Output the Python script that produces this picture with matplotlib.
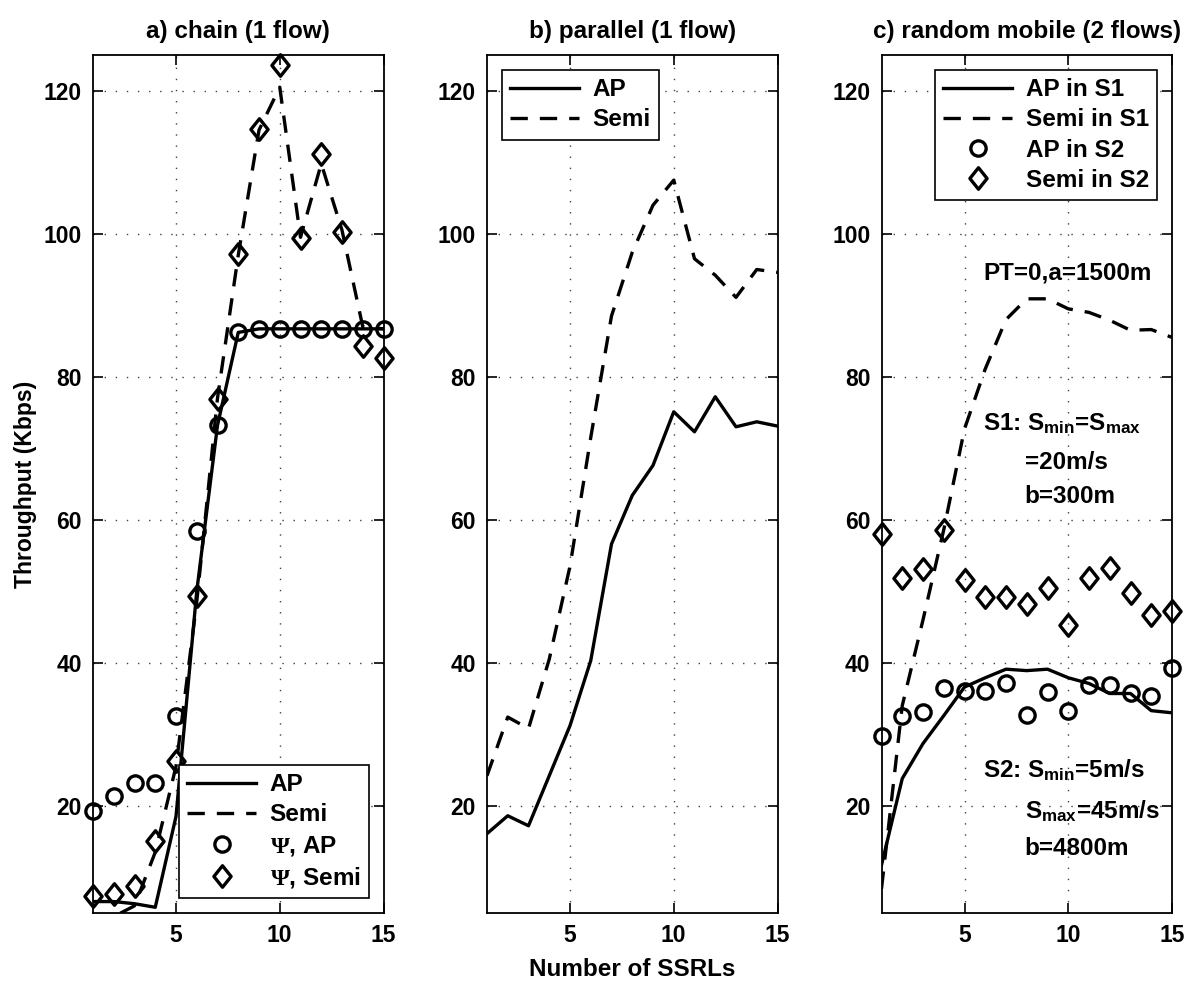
import matplotlib
matplotlib.use("Agg")
import matplotlib.pyplot as plt
from matplotlib.path import Path

fam = "Liberation Sans"
plt.rcParams['font.family'] = [fam, 'DejaVu Sans']
plt.rcParams['font.weight'] = 'bold'
plt.rcParams['mathtext.fontset'] = 'custom'
plt.rcParams['mathtext.rm'] = fam + ':bold'
plt.rcParams['mathtext.it'] = fam + ':bold'
plt.rcParams['mathtext.bf'] = fam + ':bold'
plt.rcParams['mathtext.sf'] = 'Liberation Serif'
plt.rcParams['mathtext.default'] = 'regular'

x = list(range(1, 16))

# a) chain (1 flow)
a_ap = [6.6, 6.6, 6.3, 5.8, 18.5, 50.0, 73.2, 86.2, 86.7, 86.7, 86.7, 86.7, 86.7, 86.7, 86.7]
a_semi = [3.5, 4.5, 6.0, 13.5, 25.5, 48.5, 77.0, 97.0, 114.5, 120.5, 99.5, 109.8, 100.5, 87.0, 86.7]
a_psi_ap = [19.3, 21.4, 23.2, 23.2, 32.6, 58.4, 73.2, 86.2, 86.7, 86.7, 86.7, 86.7, 86.7, 86.7, 86.7]
a_psi_semi = [7.4, 7.7, 8.8, 15.1, 26.2, 49.4, 76.9, 97.2, 114.7, 123.6, 99.4, 111.2, 100.3, 84.3, 82.6]

# b) parallel (1 flow)
b_ap = [16.1, 18.6, 17.2, 24.2, 31.2, 40.3, 56.6, 63.4, 67.6, 75.1, 72.3, 77.2, 73.0, 73.7, 73.1]
b_semi = [24.2, 32.4, 30.8, 40.5, 53.5, 71.5, 88.5, 97.4, 104.0, 107.5, 96.5, 94.2, 91.1, 95.0, 94.6]

# c) random mobile (2 flows)
c_ap_s1 = [11.7, 23.8, 28.7, 32.6, 36.6, 37.9, 39.1, 38.9, 39.1, 37.9, 37.1, 35.7, 35.7, 33.3, 33.0]
c_semi_s1 = [8.4, 34.0, 46.0, 58.6, 72.7, 81.1, 88.0, 90.9, 90.9, 89.5, 89.0, 87.9, 86.5, 86.6, 85.5]
c_ap_s2 = [29.7, 32.5, 33.1, 36.5, 36.0, 36.0, 37.2, 32.7, 35.9, 33.2, 36.9, 36.9, 35.7, 35.3, 39.2]
c_semi_s2 = [58.0, 51.8, 53.1, 58.5, 51.6, 49.2, 49.2, 48.2, 50.5, 45.3, 51.9, 53.3, 49.7, 46.7, 47.2]

titles = ["a) chain (1 flow)", "b) parallel (1 flow)", "c) random mobile (2 flows)"]
xticks = [5, 10, 15]
yticks = [20, 40, 60, 80, 100, 120]

FS = 16.5
FT = 17.5
LW = 2.4
MS = 11
MEW = 2.4
DMS = 15.5

diamond = Path([(0, 1), (0.8, 0), (0, -1), (-0.8, 0), (0, 1)],
               [Path.MOVETO, Path.LINETO, Path.LINETO, Path.LINETO, Path.CLOSEPOLY])

fig = plt.figure(figsize=(12, 9.86), dpi=100)
lefts = [93/1200, 487/1200, 881.5/1200]
W = 290.5/1200
B = 1 - 913/986
H = (913-55)/986
axes = [fig.add_axes([l, B, W, H]) for l in lefts]

dash = (0, (5.2, 3.6))

def style_legend(leg):
    leg.get_frame().set_linewidth(1.2)
    for tx in leg.get_texts():
        tx.set_fontweight('bold')

legkw = dict(fontsize=FT, frameon=True, fancybox=False, edgecolor='black',
             framealpha=1, borderaxespad=0.6, handlelength=2.85,
             labelspacing=0.3, handletextpad=0.55, borderpad=0.35)

for ax, t in zip(axes, titles):
    ax.set_xlim(1, 15)
    ax.set_ylim(5, 125)
    ax.set_xticks(xticks)
    ax.set_yticks(yticks)
    ax.tick_params(direction='in', length=7, width=1.2, top=True, right=True,
                   labelsize=FS, pad=8)
    for lab in ax.get_xticklabels() + ax.get_yticklabels():
        lab.set_fontweight('bold')
    ax.grid(True, linestyle=(0, (1, 7)), color='black', linewidth=1.0, alpha=0.75)
    for s in ax.spines.values():
        s.set_linewidth(1.3)
    ax.set_title(t, fontsize=FT, fontweight='bold', pad=12)

# Panel a
ax = axes[0]
l1, = ax.plot(x, a_ap, '-', color='black', lw=LW, label='AP')
l2, = ax.plot(x, a_semi, linestyle=dash, color='black', lw=LW, label='Semi')
l3, = ax.plot(x, a_psi_ap, 'o', mfc='none', mec='black', ms=MS, mew=MEW,
              label=r'$\mathsf{\Psi}$, AP', clip_on=False)
l4, = ax.plot(x, a_psi_semi, marker=diamond, ls='none', mfc='none', mec='black',
              ms=DMS, mew=MEW, label=r'$\mathsf{\Psi}$, Semi', clip_on=False)
style_legend(ax.legend(handles=[l1, l2, l3, l4], loc='lower right', **legkw))
ax.set_ylabel('Throughput (Kbps)', fontsize=FS, fontweight='bold', labelpad=5)

# Panel b
ax = axes[1]
m1, = ax.plot(x, b_ap, '-', color='black', lw=LW, label='AP')
m2, = ax.plot(x, b_semi, linestyle=dash, color='black', lw=LW, label='Semi')
style_legend(ax.legend(handles=[m1, m2], loc='upper left', **legkw))
ax.set_xlabel('Number of SSRLs', fontsize=FT, fontweight='bold', labelpad=8)

# Panel c
ax = axes[2]
n1, = ax.plot(x, c_ap_s1, '-', color='black', lw=LW, label='AP in S1')
n2, = ax.plot(x, c_semi_s1, linestyle=dash, color='black', lw=LW, label='Semi in S1')
n3, = ax.plot(x, c_ap_s2, 'o', mfc='none', mec='black', ms=MS, mew=MEW,
              label='AP in S2', clip_on=False)
n4, = ax.plot(x, c_semi_s2, marker=diamond, ls='none', mfc='none', mec='black',
              ms=DMS, mew=MEW, label='Semi in S2', clip_on=False)
style_legend(ax.legend(handles=[n1, n2, n3, n4], loc='upper right', **legkw))

tkw = dict(fontsize=FT, fontweight='bold', ha='left', va='center')
ax.text(5.9, 94.5, 'PT=0,a=1500m', **tkw)
ax.text(5.9, 73.5, 'S1: S$_{min}$=S$_{max}$', **tkw)
ax.text(7.9, 68.0, '=20m/s', **tkw)
ax.text(7.9, 63.3, 'b=300m', **tkw)
ax.text(5.9, 25.0, 'S2: S$_{min}$=5m/s', **tkw)
ax.text(7.9, 19.3, 'S$_{max}$=45m/s', **tkw)
ax.text(7.9, 14.0, 'b=4800m', **tkw)

fig.savefig('out.png', dpi=100)
